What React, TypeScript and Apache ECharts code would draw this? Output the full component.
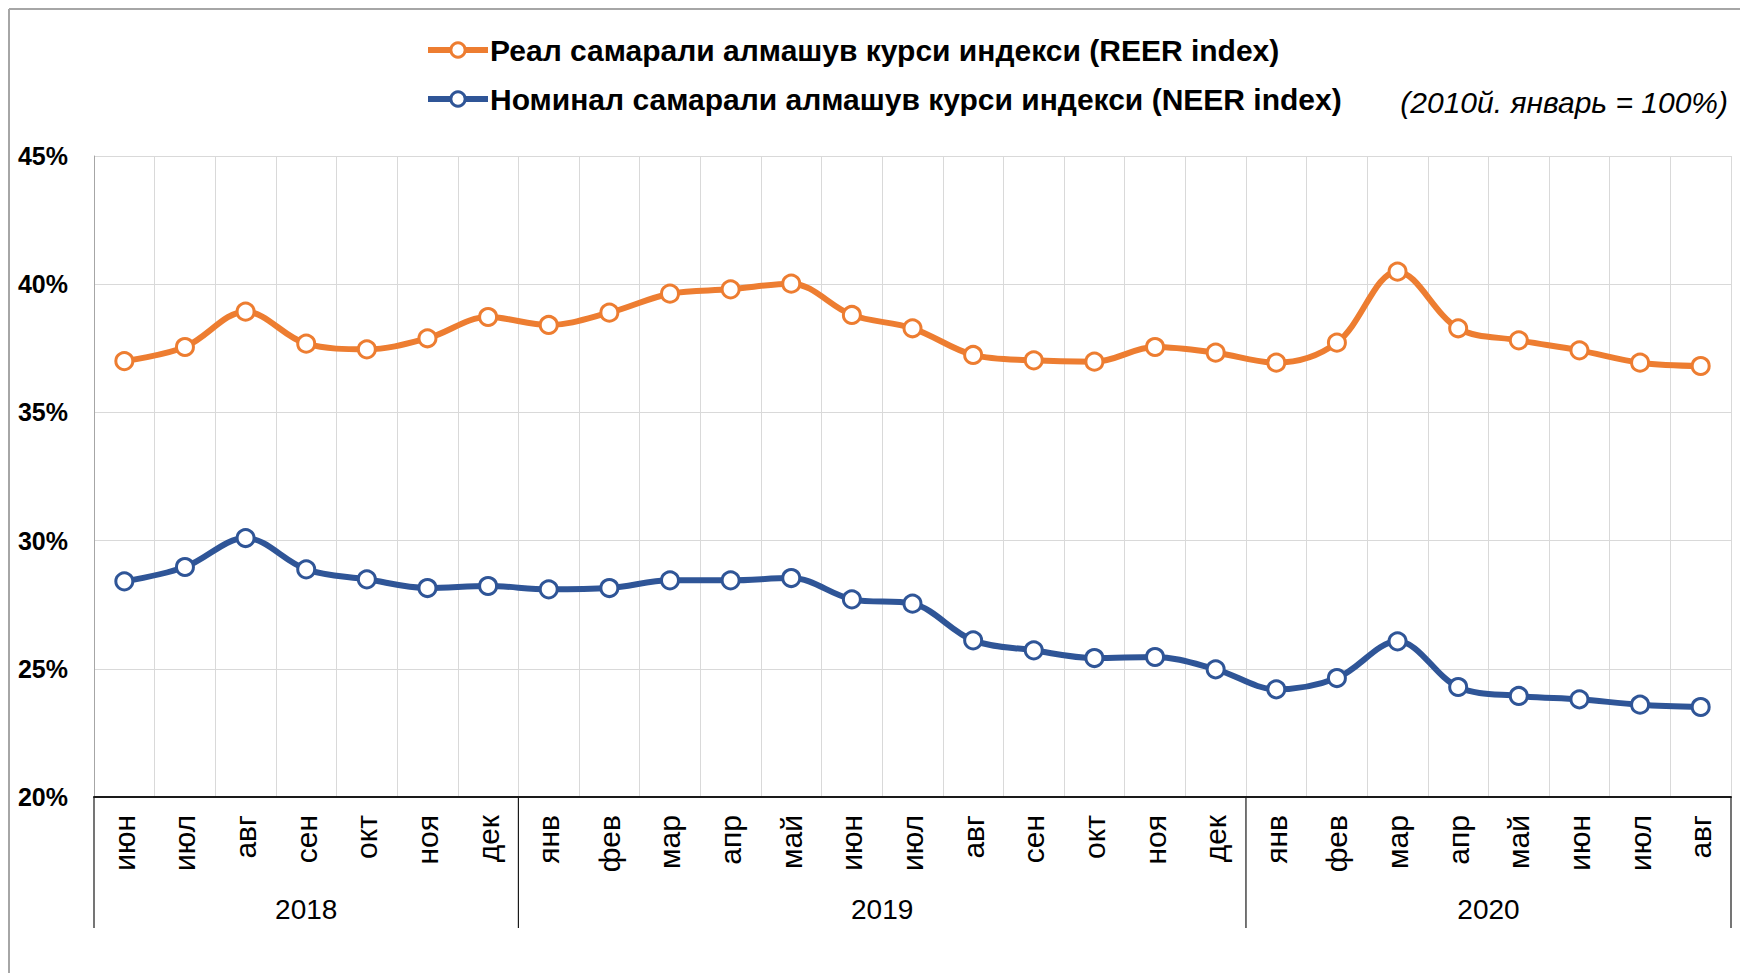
import React, { useEffect, useRef } from "react";
import * as echarts from "echarts";

const months = [
  "июн", "июл", "авг", "сен", "окт", "ноя", "дек",
  "янв", "фев", "мар", "апр", "май", "июн", "июл", "авг", "сен", "окт", "ноя", "дек",
  "янв", "фев", "мар", "апр", "май", "июн", "июл", "авг",
];
const years = ["2018", "2019", "2020"];
const yearCounts = [7, 12, 8];

const reer = [
  37.0, 37.55, 38.93, 37.68, 37.46, 37.89, 38.72,
  38.41, 38.89, 39.63, 39.8, 40.02, 38.8, 38.28, 37.24, 37.03, 36.98, 37.55, 37.33,
  36.94, 37.72, 40.49, 38.28, 37.81, 37.42, 36.94, 36.81,
];
const neer = [
  28.41, 28.97, 30.1, 28.88, 28.49, 28.15, 28.23,
  28.1, 28.15, 28.45, 28.45, 28.54, 27.71, 27.54, 26.11, 25.72, 25.42, 25.46, 24.98,
  24.2, 24.64, 26.07, 24.29, 23.94, 23.81, 23.6, 23.51,
];

const reerName = "Реал самарали алмашув курси индекси (REER index)";
const neerName = "Номинал самарали алмашув курси индекси (NEER index)";
const note = "(2010й. январь = 100%)";

const FONT = "'Liberation Sans', Arial, sans-serif";
const ORANGE = "#ED7D31";
const BLUE = "#2F5597";

export default function App() {
  const ref = useRef<HTMLDivElement>(null);
  useEffect(() => {
    if (!ref.current) return;
    const chart = echarts.init(ref.current, undefined, { renderer: "svg" });
    const mkSeries = (name: string, data: number[], color: string) => ({
      name,
      type: "line",
      data,
      smooth: 0.35,
      symbol: "circle",
      symbolSize: 17,
      showSymbol: true,
      lineStyle: { color, width: 6 },
      itemStyle: { color: "#ffffff", borderColor: color, borderWidth: 3 },
      z: 3,
    });
    const option: any = {
      animation: false,
      textStyle: { fontFamily: FONT },
      legend: {
        orient: "vertical",
        left: 425,
        top: 35,
        padding: 0,
        itemWidth: 60,
        itemHeight: 18,
        itemGap: 19,
        textStyle: { fontFamily: FONT, fontSize: 30, fontWeight: "bold", color: "#000", padding: [0, 0, 0, -3] },
        lineStyle: { width: 6 },
        itemStyle: { borderWidth: 3 },
        data: [reerName, neerName],
      },
      grid: { left: 94, right: 9, top: 156, bottom: 176, containLabel: false },
      xAxis: {
        type: "category",
        data: months,
        boundaryGap: true,
        axisLine: { show: true, lineStyle: { color: "#1a1a1a", width: 2 } },
        axisTick: { show: false },
        splitLine: { show: true, interval: 0, lineStyle: { color: "#d9d9d9", width: 1 } },
        axisLabel: {
          rotate: 90,
          interval: 0,
          margin: 18,
          fontFamily: FONT,
          fontSize: 30,
          color: "#000",
        },
      },
      yAxis: {
        type: "value",
        min: 20,
        max: 45,
        interval: 5,
        axisLine: { show: true, lineStyle: { color: "#a6a6a6", width: 1 } },
        axisTick: { show: false },
        splitLine: { show: true, lineStyle: { color: "#d9d9d9", width: 1 } },
        axisLabel: {
          formatter: "{value}%",
          fontFamily: FONT,
          fontSize: 25,
          fontWeight: "bold",
          color: "#000",
          margin: 26,
        },
      },
      series: [mkSeries(reerName, reer, ORANGE), mkSeries(neerName, neer, BLUE)],
    };
    chart.setOption(option);

    // year group separators and labels, positioned through the axis scale
    const px = (i: number) => chart.convertToPixel({ xAxisIndex: 0 }, i) as number;
    const step = px(1) - px(0);
    const axisY = chart.convertToPixel({ yAxisIndex: 0 }, 20) as number;
    const elements: any[] = [];
    let start = 0;
    const boundaries: number[] = [px(0) - step / 2];
    yearCounts.forEach((cnt, k) => {
      const end = start + cnt - 1;
      const cx = (px(start) + px(end)) / 2;
      elements.push({
        type: "text",
        x: cx,
        y: axisY + 112,
        style: {
          text: years[k],
          font: `28px ${FONT}`,
          fill: "#000",
          align: "center",
          verticalAlign: "middle",
        },
      });
      boundaries.push(px(end) + step / 2);
      start += cnt;
    });
    boundaries.forEach((bx) => {
      elements.push({
        type: "line",
        shape: { x1: bx, y1: axisY, x2: bx, y2: axisY + 131 },
        style: { stroke: "#1a1a1a", lineWidth: 1.2 },
      });
    });
    elements.push({
      type: "text",
      x: 1728,
      y: 102,
      style: {
        text: note,
        font: `italic 30px ${FONT}`,
        fill: "#000",
        align: "right",
        verticalAlign: "middle",
      },
    });
    // outer frame of the picture (top & left)
    elements.push({
      type: "line",
      shape: { x1: 9, y1: 9, x2: 1740, y2: 9 },
      style: { stroke: "#a6a6a6", lineWidth: 2 },
    });
    elements.push({
      type: "line",
      shape: { x1: 9, y1: 9, x2: 9, y2: 973 },
      style: { stroke: "#a6a6a6", lineWidth: 2 },
    });
    chart.setOption({ graphic: { elements } });

    return () => chart.dispose();
  }, []);
  return (
    <div
      ref={ref}
      style={{ position: "absolute", left: 0, top: 0, width: 1740, height: 973, background: "#fff" }}
    />
  );
}
